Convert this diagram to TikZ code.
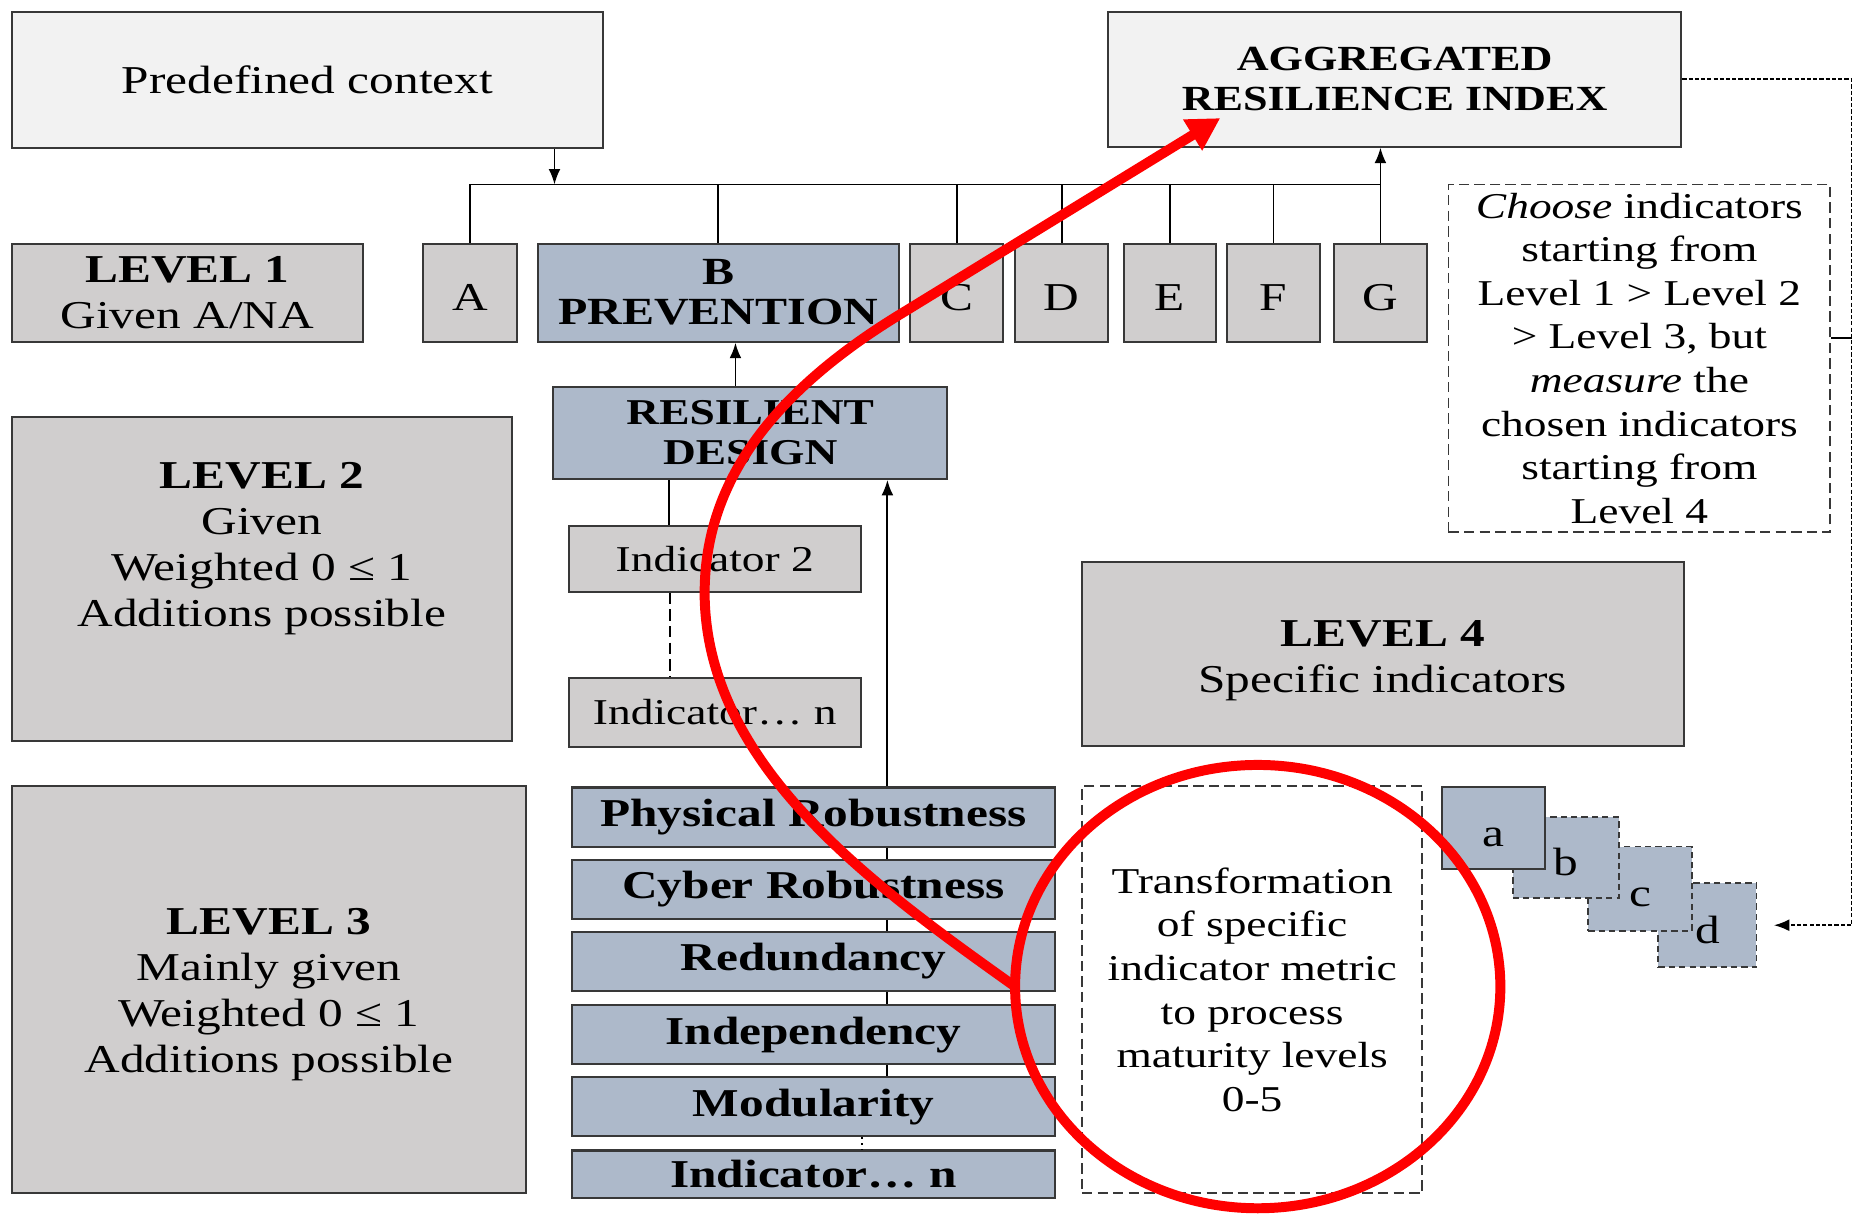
\documentclass[tikz,border=0pt]{standalone}
\usepackage{fontspec}
\setmainfont[FakeStretch=1.25]{Liberation Serif}
\usepackage{tikz}
\usetikzlibrary{arrows.meta}
\usetikzlibrary{shapes.geometric}
\definecolor{lightbox}{HTML}{F2F2F2}
\definecolor{graybox}{HTML}{D0CECE}
\definecolor{bluebox}{HTML}{ADB9CA}
\definecolor{rim}{HTML}{383838}
\tikzset{box/.style={draw=rim, line width=1pt, inner sep=1pt, align=center}}
\tikzset{greybox/.style={box, fill=graybox}}
\tikzset{bluebar/.style={box, fill=bluebox}}
\tikzset{dashbox/.style={draw=rim, line width=0.9pt, dash pattern=on 5pt off 2.5pt, inner sep=1pt, align=center}}
\tikzset{ghost/.style={dashbox, fill=bluebox, dash pattern=on 3pt off 2pt, text height=0.62cm}}
\tikzset{conn/.style={draw=black, line width=0.9pt}}
\tikzset{arr/.style={-{Latex[length=2.6mm,width=2mm]}}}
\tikzset{railline/.style={conn, line width=0.8pt, dash pattern=on 2pt off 1pt}}
\tikzset{redpen/.style={draw=red, line width=4.8pt}}
\tikzset{big/.style={font=\fontsize{19}{22.2}\selectfont}}
\tikzset{bigbold/.style={font=\bfseries\fontsize{19}{22.2}\selectfont}}
\tikzset{mid/.style={font=\fontsize{17.5}{21}\selectfont}}
\tikzset{caps/.style={font=\bfseries\fontsize{17.5}{19.3}\selectfont}}

\begin{document}
\begin{tikzpicture}[x=0.02cm, y=-0.02cm]
\useasboundingbox (0,0) rectangle (1568,1028);

\node[box, fill=lightbox, big, minimum width=10cm, minimum height=2.3cm] (ctx) at (260,67.5) {Predefined context};
\node[box, fill=lightbox, caps, font=\bfseries\fontsize{17}{19.3}\selectfont, minimum width=9.7cm, minimum height=2.28cm] (ari) at (1179.5,67) {AGGREGATED\\RESILIENCE INDEX};

\node[greybox, big, minimum width=5.94cm, minimum height=1.66cm] (lev1) at (158.5,247.5) {\textbf{LEVEL 1}\\Given A/NA};
\node[greybox, big, text height=0.62cm, minimum width=1.58cm, minimum height=1.66cm] (A) at (397.5,247.5) {A};
\node[bluebar, caps, font=\bfseries\fontsize{18.5}{19.3}\selectfont, minimum width=6.1cm, minimum height=1.66cm] (B) at (607.5,247.5) {B\\PREVENTION};
\foreach \n/\x in {C/809, D/898, E/989.5, F/1077, G/1167.5}
  \node[greybox, big, text height=0.62cm, minimum width=1.57cm, minimum height=1.66cm] (\n) at (\x,247.5) {\n};

\node[greybox, big, minimum width=8.46cm, minimum height=5.48cm,
  label={[big, align=center, yshift=0.52cm]center:{\textbf{LEVEL 2}\\Given\\Weighted 0 ≤ 1\\Additions possible}}] (lev2) at (221.5,490) {};
\node[bluebar, caps, minimum width=6.66cm, minimum height=1.56cm] (rd) at (634.5,366) {RESILIENT\\DESIGN};
\node[greybox, mid, minimum width=4.94cm, minimum height=1.12cm] (ind2) at (604.5,472.5) {Indicator 2};
\node[greybox, mid, minimum width=4.94cm, minimum height=1.16cm] (indn) at (604.5,602.5) {Indicator… n};

\node[greybox, big, minimum width=8.7cm, minimum height=6.88cm,
  label={[big, align=center, yshift=-0.08cm]center:{\textbf{LEVEL 3}\\Mainly given\\Weighted 0 ≤ 1\\Additions possible}}] (lev3) at (227.5,837) {};
\foreach \n/\y/\t in {phys/691/Physical Robustness, cyber/752/Cyber Robustness, redun/813/Redundancy, indep/875/Independency, modul/936/Modularity}
  \node[bluebar, bigbold, minimum width=8.16cm, minimum height=1cm] (\n) at (688,\y) {\t};
\node[bluebar, bigbold, minimum width=8.16cm, minimum height=0.8cm] (indnb) at (688,993) {Indicator… n};

\node[greybox, big, minimum width=10.18cm, minimum height=3.12cm,
  label={[big, align=center, yshift=-0.12cm]center:{\textbf{LEVEL 4}\\Specific indicators}}] (lev4) at (1169.5,553) {};
\node[dashbox, mid, minimum width=6.46cm, minimum height=5.88cm] (choose) at (1386.5,303) {\textit{Choose} indicators\\starting from\\Level 1 > Level 2\\> Level 3, but\\\textit{measure} the\\chosen indicators\\starting from\\Level 4};
\node[dashbox, mid, minimum width=5.76cm, minimum height=6.88cm] (trans) at (1059,837) {Transformation\\of specific\\indicator metric\\to process\\maturity levels\\0-5};

\node[ghost, big, minimum width=1.66cm, minimum height=1.42cm] (d) at (1444,782.5) {d};
\node[ghost, big, minimum width=1.75cm, minimum height=1.43cm] (c) at (1387,751.7) {c};
\node[ghost, big, minimum width=1.8cm, minimum height=1.36cm] (b) at (1324.3,725.3) {b};
\node[bluebar, big, text height=0.62cm, minimum width=1.75cm, minimum height=1.38cm] (a) at (1263,700.3) {a};

\coordinate (bus) at (397.5,156);
\coordinate (drop) at ([xshift=4.18cm]ctx.south);
\coordinate (lift) at ([xshift=-0.25cm]rd.north);
\coordinate (spine) at (750.5,0);
\coordinate (rail) at (1566,0);
\coordinate (tick) at ([yshift=0.35cm]choose.east);
\draw[conn] (A.north) -- (bus) -- (G.north |- bus);
\foreach \n in {B,C,D,E,F}
  \draw[conn] (\n.north) -- (\n.north |- bus);
\draw[conn, arr] (drop) -- (drop |- bus);
\draw[conn, arr] (G.north) -- (G.north |- ari.south);
\draw[conn, arr] (lift) -- (lift |- B.south);
\draw[conn] ([xshift=-0.78cm]ind2.north) -- ([xshift=-0.78cm]ind2.north |- rd.south);
\draw[conn, dash pattern=on 5.5pt off 2.5pt] ([xshift=-0.76cm]ind2.south) -- ([xshift=-0.76cm]indn.north);
\draw[conn, arr] (phys.north -| spine) -- (rd.south -| spine);
\foreach \u/\v in {phys/cyber, cyber/redun, redun/indep, indep/modul}
  \draw[conn] (\u.south -| spine) -- (\v.north -| spine);
\draw[conn, dotted] ([xshift=0.82cm]modul.south) -- ([xshift=0.82cm]indnb.north);
\draw[railline, arr] (ari.east) -- (ari.east -| rail) -- (rail |- d.east) -- ([xshift=0.28cm]d.east);
\draw[conn] (tick) -- (tick -| rail);

\node[ellipse, redpen, outer sep=0pt, minimum width=8.21cm, minimum height=7.5cm] (ring) at (1063.7,834.4) {};
\coordinate (tip) at ([xshift=-2.95cm, yshift=0.5cm]ari.south);
\draw[redpen, -{Triangle[length=0.55cm, width=0.58cm]}] (ring.west) .. controls (740,750) and (600,650) .. (596,507) .. controls (594,420) and (640,340) .. (761,266) -- (tip);
\end{tikzpicture}
\end{document}
